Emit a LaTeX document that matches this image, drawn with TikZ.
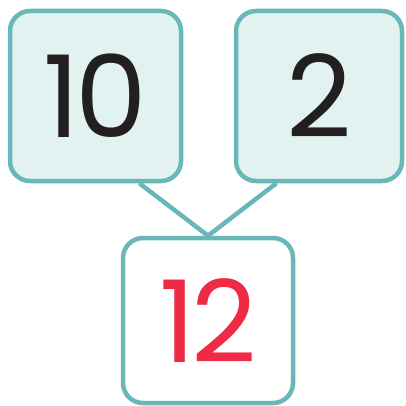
\documentclass[tikz,border=0pt]{standalone}
\usepackage{fontspec}
\setmainfont[LetterSpace=-4]{Poppins}
\usetikzlibrary{calc,backgrounds}
\definecolor{tealline}{HTML}{6AB7B9}
\definecolor{tealfill}{HTML}{E2F2F1}
\definecolor{numred}{HTML}{EE2A45}
\definecolor{numblack}{HTML}{231F20}
\tikzset{
  % boxes of the number bond
  partbox/.style={draw=tealline,fill=tealfill,line width=4.5pt,rounded corners=20pt,
    inner sep=0pt,minimum height=170pt,font=\fontsize{114}{114}\selectfont,text=numblack},
  wholebox/.style={partbox,fill=white,minimum height=165pt,text=numred},
  bond/.style={draw=tealline,line width=4.5pt},
}
\begin{document}
\begin{tikzpicture}[x=1pt,y=-1pt]
  \useasboundingbox (0,0) rectangle (406,406);
  \node[partbox,minimum width=171pt] (ten) at (95.5,96) {10};
  \node[partbox,minimum width=166pt] (two) at (319,96) {2};
  \node[wholebox,minimum width=170pt] (whole) at (208,320.5) {12};
  \begin{pgfonlayer}{background}
    \draw[bond] ($(ten.south west)!0.75!(ten.south east)$) -- (whole.north);
    \draw[bond] ($(two.south west)!0.25!(two.south east)$) -- (whole.north);
  \end{pgfonlayer}
\end{tikzpicture}
\end{document}
